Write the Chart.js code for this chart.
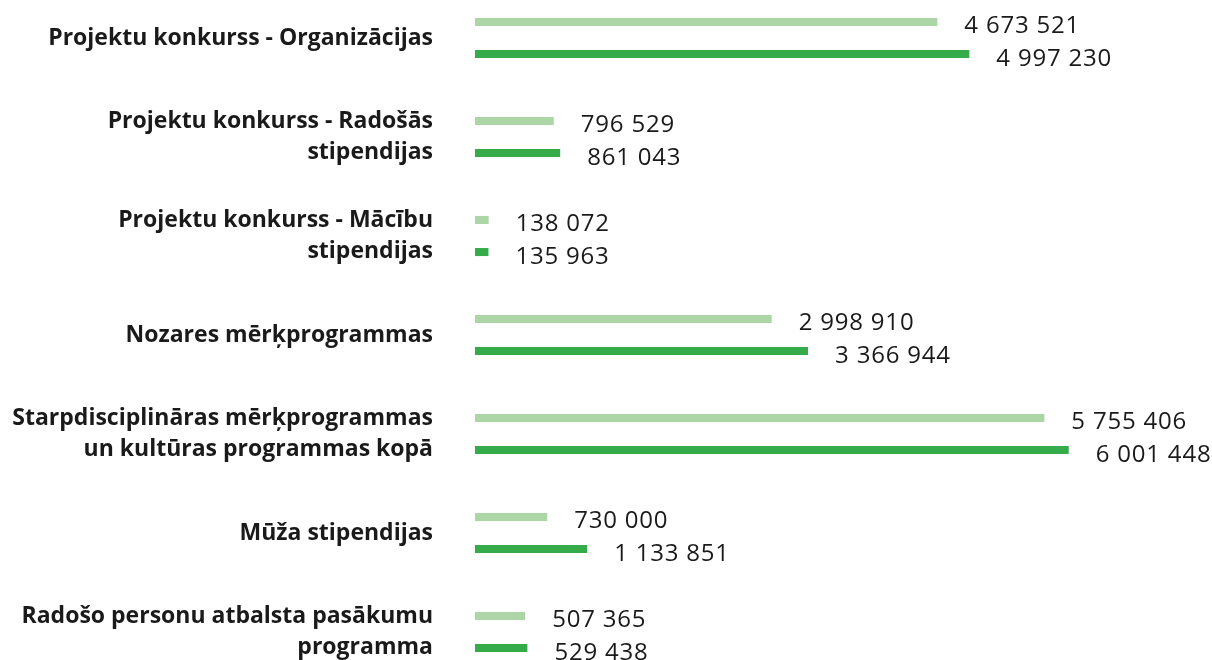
<!DOCTYPE html>
<html>
<head>
<meta charset="utf-8">
<script src="https://cdn.jsdelivr.net/npm/chart.js@4"></script>
<style>
  html, body { margin: 0; padding: 0; background: #fff; }
  #wrap { width: 1212px; height: 660px; }
</style>
</head>
<body>
<div id="wrap"><canvas id="budgetChart"></canvas></div>
<script>
const categories = [
    ['Projektu konkurss - Organizācijas'],
    ['Projektu konkurss - Radošās', 'stipendijas'],
    ['Projektu konkurss - Mācību', 'stipendijas'],
    ['Nozares mērķprogrammas'],
    ['Starpdisciplināras mērķprogrammas', 'un kultūras programmas kopā'],
    ['Mūža stipendijas'],
    ['Radošo personu atbalsta pasākumu', 'programma']
];
const valuesLight = [4673521, 796529, 138072, 2998910, 5755406, 730000, 507365];
const valuesDark = [4997230, 861043, 135963, 3366944, 6001448, 1133851, 529438];

function formatNum(n) {
    // space as thousands separator
    return String(n).replace(/\B(?=(\d{3})+(?!\d))/g, ' ');
}

// draws the numbers to the right of each bar
const valueLabels = {
    id: 'valueLabels',
    afterDatasetsDraw(chart) {
        const ctx = chart.ctx;
        ctx.save();
        ctx.font = '24px "Open Sans"';
        ctx.letterSpacing = '0.8px';
        ctx.fillStyle = '#1a1a1a';
        ctx.textAlign = 'left';
        ctx.textBaseline = 'alphabetic';
        chart.data.datasets.forEach((ds, i) => {
            const meta = chart.getDatasetMeta(i);
            meta.data.forEach((bar, j) => {
                ctx.fillText(formatNum(ds.data[j]), bar.x + 27, bar.y + 11.5);
            });
        });
        ctx.restore();
    }
};

const ctx = document.getElementById('budgetChart').getContext('2d');
new Chart(ctx, {
    type: 'bar',
    data: {
        labels: categories,
        datasets: [{
            data: valuesLight,
            backgroundColor: '#acd6a5',
            categoryPercentage: 0.648,
            barPercentage: 0.25,
            clip: false
        }, {
            data: valuesDark,
            backgroundColor: '#35ab4a',
            categoryPercentage: 0.648,
            barPercentage: 0.25,
            clip: false
        }]
    },
    options: {
        indexAxis: 'y',
        responsive: true,
        maintainAspectRatio: false,
        animation: false,
        layout: { padding: { top: 38, bottom: 28, left: 0, right: 0 } },
        plugins: {
            legend: { display: false },
            tooltip: { enabled: false }
        },
        scales: {
            x: {
                display: false,
                min: 0,
                max: 7450000
            },
            y: {
                offset: false,
                border: { display: false },
                grid: { display: false, drawTicks: false },
                ticks: {
                    padding: 42,
                    color: '#1a1a1a',
                    font: { family: 'Open Sans', size: 23, weight: 700, lineHeight: '31px' }
                },
                afterFit(scale) {
                    scale.width = 475;
                    // labels may overflow the area, keep rows where they are
                    scale.paddingTop = 0;
                    scale.paddingBottom = 0;
                }
            }
        }
    },
    plugins: [valueLabels]
});
</script>
</body>
</html>
